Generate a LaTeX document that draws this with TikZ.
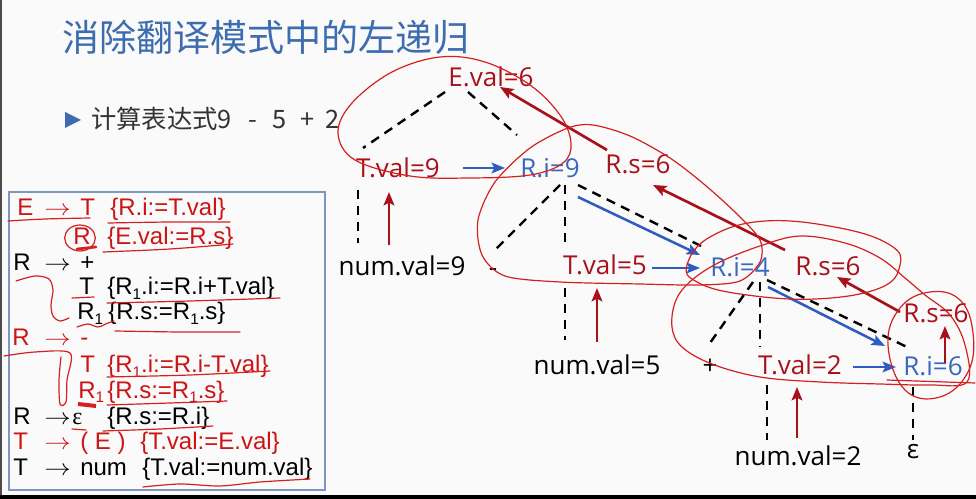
\documentclass[tikz,border=0pt]{standalone}
\usepackage{fontspec}
\setmainfont{Liberation Sans}
\newfontfamily\cjkf{Noto Sans CJK SC}
\newfontfamily\treef{Open Sans}
\newfontfamily\serf{Liberation Serif}
\usetikzlibrary{arrows.meta}
\newcommand\subone{\raisebox{-0.2em}[0pt][0pt]{\fontsize{11.5}{11.5}\selectfont 1}}
\newcommand\arr{\scalebox{1.15}[1]{$\rightarrow$}}
\definecolor{ttl}{HTML}{3D6DB0}
\definecolor{txt}{HTML}{333333}
\definecolor{dred}{HTML}{A8101A}
\definecolor{tblue}{HTML}{3A68BE}
\definecolor{ablue}{HTML}{2E5CC0}
\definecolor{pen}{HTML}{D42020}
\definecolor{gred}{HTML}{CC1414}
\definecolor{frame}{HTML}{7C98C0}
\definecolor{bg}{HTML}{FAFAFA}
\begin{document}
\begin{tikzpicture}[x=0.75pt,y=-0.75pt,
 tr/.style={font=\treef\fontsize{19.5}{20}\selectfont, inner sep=0pt, anchor=base},
 gr/.style={font=\fontsize{18}{20}\selectfont, inner sep=0pt, anchor=base west, text height=12pt, text depth=2pt},
 dsh/.style={black, line width=1.8pt, dash pattern=on 7pt off 5pt},
 rarr/.style={dred, line width=2pt, -{Stealth[length=10pt,width=8pt,inset=2pt]}},
 barr/.style={ablue, line width=1.9pt, -{Stealth[length=10pt,width=8pt,inset=2pt]}},
 penl/.style={pen, line width=0.9pt, line cap=round, line join=round},
]
\fill[bg] (0,0) rectangle (976,499);
\useasboundingbox (0,0) rectangle (976,499);
\fill[black] (0,495) rectangle (976,499);
\fill[black!70] (0,0) rectangle (2,495);

% title and bullet
\node[anchor=base west, inner sep=0pt, font=\cjkf\fontsize{27.8}{30}\selectfont, text=ttl] (title) at (62,52) {消除翻译模式中的左递归};
\fill[ttl] (65,112) -- (81,120) -- (65,128) -- cycle;
\node[anchor=base west, inner sep=0pt, font=\cjkf\fontsize{19}{22}\selectfont, text=txt] (bul) at (91,129) {计算表达式9\hspace{0.65em}-\hspace{0.6em}5\hspace{0.55em}+\hspace{0.45em}2};

% grammar panel
\draw[frame, line width=1.1pt] (9,192) rectangle (325,490);
\node[gr,gred] (g1l) at (17,216) {E};
\node[gr,gred] (g1a) at (44,216) {\arr};
\node[gr,gred] (g1s) at (80,216) {T};
\node[gr,gred] (g1c) at (110,216) {\{R.i:=T.val\}};
\node[gr,gred] (g2s) at (73,245) {R};
\node[gr,gred] (g2c) at (107,245) {\{E.val:=R.s\}};
\node[gr] (g3l) at (13,271) {R};
\node[gr] (g3a) at (44,271) {\arr};
\node[gr] (g3s) at (80,271) {+};
\node[gr] (g4s) at (79,295) {T};
\node[gr] (g4c) at (107,295) {\{R\subone.i:=R.i+T.val\}};
\node[gr] (g5s) at (77,320) {R\subone};
\node[gr] (g5c) at (108,320) {\{R.s:=R\subone.s\}};
\node[gr,gred] (g6l) at (12,346) {R};
\node[gr,gred] (g6a) at (44,346) {\arr};
\node[gr,gred] (g6s) at (80,346) {-};
\node[gr,gred] (g7s) at (80,373) {T};
\node[gr,gred] (g7c) at (107,373) {\{R\subone.i:=R.i-T.val\}};
\node[gr,gred] (g8s) at (78,398) {R\subone};
\node[gr,gred] (g8c) at (107,398) {\{R.s:=R\subone.s\}};
\node[gr] (g9l) at (13,425) {R};
\node[gr] (g9a) at (44,425) {\arr};
\node[gr] (g9s) at (72,425) {\serf ε};
\node[gr] (g9c) at (107,425) {\{R.s:=R.i\}};
\node[gr,gred] (g10l) at (13,450) {T};
\node[gr,gred] (g10a) at (44,450) {\arr};
\node[gr,gred] (g10s) at (80,450) {( E )};
\node[gr,gred] (g10c) at (140,450) {\{T.val:=E.val\}};
\node[gr] (g11l) at (13,475) {T};
\node[gr] (g11a) at (44,475) {\arr};
\node[gr] (g11s) at (80,475) {num};
\node[gr] (g11c) at (142,475) {\{T.val:=num.val\}};

% tree nodes
\node[tr,dred] (Ev) at (491,87) {E.val=6};
\node[tr,dred] (T9) at (398,178) {T.val=9};
\node[tr,tblue] (Ri9) at (550,178) {R.i=9};
\node[tr,dred] (Rs6a) at (638,174) {R.s=6};
\node[tr] (n9) at (402,276) {num.val=9};
\node[tr] (minus) at (493,277) {-};
\node[tr,dred] (T5) at (605,275) {T.val=5};
\node[tr,tblue] (Ri4) at (740,277) {R.i=4};
\node[tr,dred] (Rs6b) at (828,276) {R.s=6};
\node[tr] (n5) at (597,374) {num.val=5};
\node[tr] (plus) at (710,375) {+};
\node[tr,dred] (T2) at (800,375) {T.val=2};
\node[tr,tblue] (Ri6) at (933,376) {R.i=6};
\node[tr,dred] (Rs6c) at (936,323) {R.s=6};
\node[tr] (n2) at (798,465) {num.val=2};
\node[tr] (eps) at (913,459) {ε};

% connector end points
\coordinate (Ev-l) at (445,92);   \coordinate (T9-t) at (363,148);
\coordinate (Ev-r) at (468,92);   \coordinate (Ri9-t) at (517,135);
\coordinate (T9-b) at (358,190);  \coordinate (n9-t) at (358,243);
\coordinate (Ri9-bl) at (560,185); \coordinate (minus-t) at (493,252);
\coordinate (Ri9-b) at (565,185); \coordinate (T5-t) at (565,248);
\coordinate (T5-b) at (565,288);  \coordinate (n5-t) at (565,340);
\coordinate (Ri9-br) at (578,185); \coordinate (Ri4-t) at (703,247);
\coordinate (Ri4-bl) at (753,282); \coordinate (plus-t) at (710,343);
\coordinate (Ri4-b) at (760,282); \coordinate (T2-t) at (760,347);
\coordinate (Ri4-br) at (767,280); \coordinate (Ri6-t) at (907,347);
\coordinate (T2-b) at (767,385);  \coordinate (n2-t) at (767,440);
\coordinate (Ri6-b) at (913,387); \coordinate (eps-t) at (913,440);

\draw[dsh] (Ev-l) -- (T9-t);
\draw[dsh] (Ev-r) -- (Ri9-t);
\draw[dsh] (T9-b) -- (n9-t);
\draw[dsh] (Ri9-bl) -- (minus-t);
\draw[dsh] (Ri9-b) -- (T5-t);
\draw[dsh] (T5-b) -- (n5-t);
\draw[dsh] (Ri9-br) -- (Ri4-t);
\draw[dsh] (Ri4-bl) -- (plus-t);
\draw[dsh] (Ri4-b) -- (T2-t);
\draw[dsh] (Ri4-br) -- (Ri6-t);
\draw[dsh] (T2-b) -- (n2-t);
\draw[dsh] (Ri6-b) -- (eps-t);

% red (synthesized) arrows
\coordinate (Rs6a-s) at (607,150); \coordinate (Ev-h) at (500,87);
\coordinate (n9-a) at (389,245); \coordinate (T9-a) at (389,192);
\coordinate (n5-a) at (597,342); \coordinate (T5-a) at (597,288);
\coordinate (n2-a) at (797,438); \coordinate (T2-a) at (797,387);
\coordinate (Rs6b-s) at (785,250); \coordinate (Rs6a-h) at (653,185);
\coordinate (Rs6c-s) at (900,312); \coordinate (Rs6b-h) at (837,277);
\coordinate (Ri6-a) at (945,363); \coordinate (Rs6c-h) at (945,326);
\draw[rarr] (Rs6a-s) -- (Ev-h);
\draw[rarr] (n9-a) -- (T9-a);
\draw[rarr] (n5-a) -- (T5-a);
\draw[rarr] (n2-a) -- (T2-a);
\draw[rarr] (Rs6b-s) -- (Rs6a-h);
\draw[rarr] (Rs6c-s) -- (Rs6b-h);
\draw[rarr] (Ri6-a) -- (Rs6c-h);

% blue (inherited) arrows
\coordinate (T9-r) at (463,168); \coordinate (Ri9-l) at (505,168);
\coordinate (Ri9-d) at (578,197); \coordinate (Ri4-h) at (700,255);
\coordinate (T5-r) at (652,268); \coordinate (Ri4-l) at (700,268);
\coordinate (Ri4-d) at (768,287); \coordinate (Ri6-h) at (885,346);
\coordinate (T2-r) at (853,367); \coordinate (Ri6-l) at (896,367);
\draw[barr] (T9-r) -- (Ri9-l);
\draw[barr] (Ri9-d) -- (Ri4-h);
\draw[barr] (T5-r) -- (Ri4-l);
\draw[barr] (Ri4-d) -- (Ri6-h);
\draw[barr] (T2-r) -- (Ri6-l);

% hand-drawn annotations on the tree
\draw[penl] plot[smooth cycle, tension=0.6] coordinates {(355,160) (338,133) (352,103) (392,72) (440,57) (485,62) (530,85) (560,115) (571,143) (563,163) (530,175) (470,178) (410,176)};
\draw[penl] plot[smooth cycle, tension=0.5] coordinates {(593,125) (630,136) (670,158) (705,185) (738,215) (760,240) (760,262) (740,281) (700,285) (640,284) (560,282) (505,276) (482,255) (478,220) (495,182) (530,148) (568,128)};
\draw[penl] plot[smooth cycle, tension=0.7] coordinates {(687,265) (710,237) (765,221) (840,228) (890,245) (900,265) (880,288) (815,299) (740,294) (697,282)};
\draw[penl] plot[smooth cycle, tension=0.6] coordinates {(672,327) (676,300) (692,280) (720,262) (760,246) (800,236) (845,243) (880,258) (905,278) (925,295) (950,315) (965,345) (967,382) (930,385) (880,384) (820,382) (760,377) (712,364) (682,347)};
\draw[penl] plot[smooth cycle, tension=0.7] coordinates {(888,345) (900,308) (930,292) (960,300) (973,333) (968,372) (940,397) (905,390)};
\draw[penl] (887,380) -- (975,383);

% hand-drawn annotations on the grammar
\draw[penl] plot[smooth] coordinates {(8,221) (45,219) (90,218)};
\draw[penl] plot[smooth] coordinates {(108,223) (170,222) (230,222)};
\draw[penl] (80,238) ellipse [x radius=11.5pt, y radius=9.75pt];
\draw[penl, line width=2pt] (77,249) -- (96,247);
\draw[penl] plot[smooth] coordinates {(103,252) (170,249) (233,244)};
\draw[penl] plot[smooth] coordinates {(16,281) (35,276) (49,279) (53,290) (51,305) (53,316) (60,321) (69,318)};
\draw[penl] (72,298) -- (94,297);
\draw[penl] plot[smooth] coordinates {(107,303) (190,301) (280,298)};
\draw[penl] plot[smooth] coordinates {(77,327) (88,324) (98,327) (108,323) (114,321)};
\draw[penl] plot[smooth] coordinates {(115,331) (180,332) (240,332)};
\draw[penl] plot[smooth] coordinates {(4,356) (35,352) (70,353) (67,380) (66,402) (60,404) (59,380) (61,357)};
\draw[penl] plot[smooth] coordinates {(107,377) (190,375) (270,371)};
\draw[pen, line width=3pt] (78,404) -- (96,406);
\draw[penl] plot[smooth] coordinates {(107,405) (170,403) (227,401)};
\draw[penl] (72,429) -- (86,430);
\draw[penl] plot[smooth] coordinates {(103,431) (160,429) (213,426)};
\draw[penl] plot[smooth] coordinates {(143,487) (180,484) (220,486) (260,482) (310,479)};
\end{tikzpicture}
\end{document}
